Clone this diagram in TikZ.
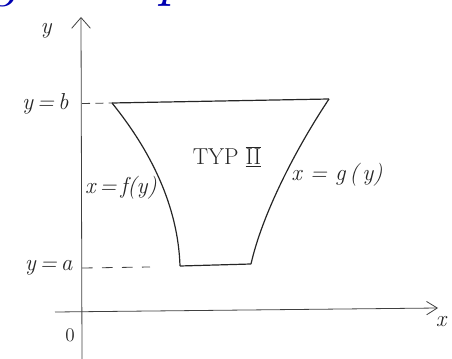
\documentclass[tikz,border=0pt]{standalone}
\usetikzlibrary{arrows.meta}
\begin{document}
\begin{tikzpicture}[x=0.75pt,y=-0.75pt,
  pen/.style={line width=0.9pt,black!85},
  thin pen/.style={line width=0.6pt,black!75},
  lbl/.style={font=\LARGE\itshape,text=black!85,inner sep=1pt},
  blue ink/.style={font=\fontsize{46}{50}\selectfont\itshape,text=blue!70!black}]
\useasboundingbox (0,0) rectangle (452,359);
% clipped handwriting at the very top
\begin{scope}
\clip (0,0) rectangle (300,30);
\node[blue ink,anchor=base west,inner sep=0pt] (top) at (-8,-5) {gace npeumusa};
\end{scope}
% axes
\coordinate (yb) at (82,359);
\coordinate (yt) at (81,17);
\coordinate (xl) at (55,312);
\coordinate (xr) at (438,308);
\draw[thin pen,-{Straight Barb[length=8pt,width=14pt]}] (yb) -- (yt);
\draw[thin pen,-{Straight Barb[length=8pt,width=10pt]}] (xl) -- (xr);
\node[lbl] (ylab) at (46,31) {y};
\node[lbl] (xlab) at (441,322) {x};
\node[lbl,font=\Large] (o) at (70,335) {0};
% region corners
\coordinate (A) at (112,103);
\coordinate (B) at (329,99);
\coordinate (C) at (251,264);
\coordinate (D) at (180,266);
\draw[pen] (A) -- (B);
\draw[pen] (D) -- (C);
\draw[pen] (A) .. controls (150,150) and (178,205) .. (D);
\draw[pen] (B) .. controls (295,150) and (262,215) .. (C);
% dashed guides
\coordinate (bl) at (82,103.5);
\coordinate (al) at (82,268);
\draw[thin pen,dash pattern=on 6pt off 4pt] (bl) -- (A);
\draw[thin pen,dash pattern=on 8pt off 7pt] (al) -- (150,267);
\node[lbl,anchor=east] (ybl) at (70,104) {y\,=\,b};
\node[lbl,anchor=east] (yal) at (74,268) {y\,=\,a};
% labels
\node[lbl,font=\LARGE\upshape] (typ) at (227,157) {TYP $\underline{\overline{\mathrm{II}}}$};
\node[lbl] (fy) at (121,188) {x\,=\,f(y)};
\node[lbl] (gy) at (337,175) {x = g\,(\,y)};
\end{tikzpicture}
\end{document}
